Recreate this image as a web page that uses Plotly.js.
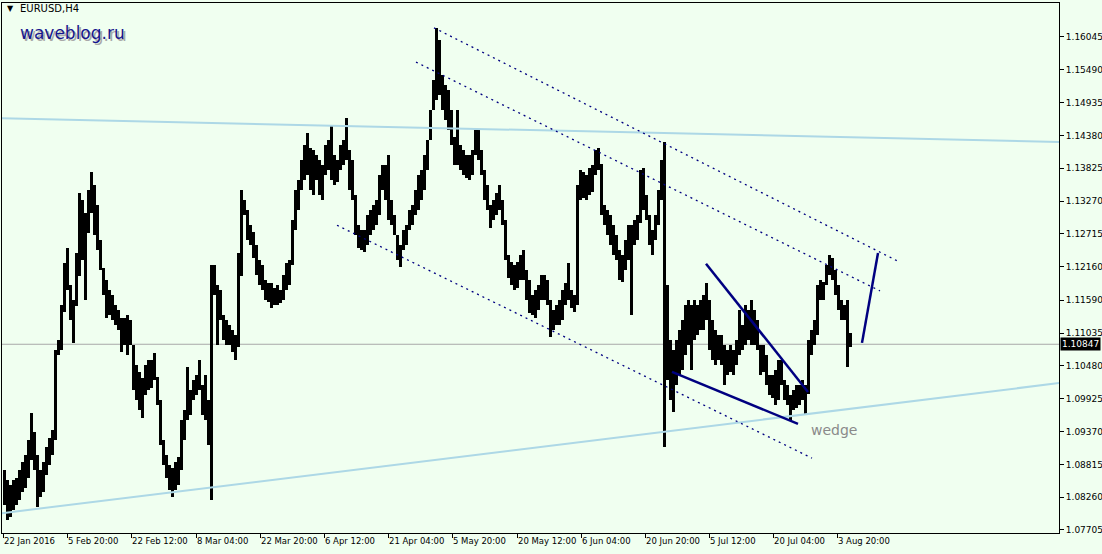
<!DOCTYPE html>
<html>
<head>
<meta charset="utf-8">
<script src="https://cdn.plot.ly/plotly-3.0.1.min.js"></script>
<style>
  html, body { margin: 0; padding: 0; background: #F0FFF0; }
  #chart { width: 1102px; height: 554px; }
</style>
</head>
<body>
<div id="chart"></div>
<script>
// EURUSD H4 price history, 22 Jan - 9 Aug 2016.
// Each entry covers three consecutive H4 bars (high / low of the group).
const barsPerColumn = 3;

const highs = [
  1.0872, 1.0855, 1.0847, 1.0855, 1.0859, 1.0872, 1.0886, 1.0897, 1.0923, 1.0968,
  1.0937, 1.0897, 1.0872, 1.0886, 1.0911, 1.0926, 1.0940, 1.1075, 1.1092, 1.1151,
  1.1222, 1.1248, 1.1185, 1.1160, 1.1239, 1.1341, 1.1329, 1.1307, 1.1346, 1.1376,
  1.1354, 1.1320, 1.1261, 1.1213, 1.1193, 1.1177, 1.1168, 1.1151, 1.1143, 1.1129,
  1.1129, 1.1134, 1.1126, 1.1083, 1.1050, 1.1038, 1.1028, 1.1050, 1.1058, 1.1058,
  1.1070, 1.1030, 1.0990, 1.0923, 1.0897, 1.0880, 1.0875, 1.0886, 1.0894, 1.0957,
  1.0974, 1.1046, 1.1007, 1.1024, 1.1033, 1.1058, 1.1016, 1.1033, 1.0990, 1.1219,
  1.1219, 1.1185, 1.1177, 1.1134, 1.1126, 1.1117, 1.1109, 1.1100, 1.1239, 1.1346,
  1.1329, 1.1312, 1.1286, 1.1275, 1.1253, 1.1227, 1.1219, 1.1193, 1.1188, 1.1188,
  1.1180, 1.1185, 1.1177, 1.1202, 1.1222, 1.1227, 1.1295, 1.1346, 1.1363, 1.1396,
  1.1422, 1.1442, 1.1417, 1.1413, 1.1405, 1.1396, 1.1388, 1.1422, 1.1430, 1.1456,
  1.1405, 1.1396, 1.1422, 1.1430, 1.1467, 1.1413, 1.1396, 1.1337, 1.1287, 1.1278,
  1.1278, 1.1303, 1.1312, 1.1320, 1.1329, 1.1371, 1.1388, 1.1388, 1.1405, 1.1329,
  1.1303, 1.1270, 1.1253, 1.1278, 1.1287, 1.1312, 1.1320, 1.1346, 1.1371, 1.1380,
  1.1405, 1.1430, 1.1481, 1.1532, 1.1620, 1.1599, 1.1540, 1.1523, 1.1515, 1.1481,
  1.1436, 1.1481, 1.1422, 1.1413, 1.1405, 1.1405, 1.1413, 1.1447, 1.1447, 1.1413,
  1.1380, 1.1354, 1.1320, 1.1329, 1.1341, 1.1354, 1.1329, 1.1295, 1.1236, 1.1224,
  1.1219, 1.1224, 1.1236, 1.1244, 1.1210, 1.1193, 1.1168, 1.1177, 1.1185, 1.1202,
  1.1202, 1.1193, 1.1160, 1.1143, 1.1151, 1.1160, 1.1177, 1.1188, 1.1222, 1.1177,
  1.1168, 1.1354, 1.1380, 1.1376, 1.1371, 1.1383, 1.1388, 1.1413, 1.1417, 1.1390,
  1.1320, 1.1312, 1.1303, 1.1287, 1.1270, 1.1244, 1.1236, 1.1261, 1.1287, 1.1287,
  1.1295, 1.1303, 1.1380, 1.1383, 1.1337, 1.1303, 1.1278, 1.1303, 1.1346, 1.1396,
  1.1427, 1.1185, 1.1092, 1.1075, 1.1092, 1.1109, 1.1126, 1.1151, 1.1160, 1.1151,
  1.1160, 1.1151, 1.1160, 1.1168, 1.1188, 1.1160, 1.1126, 1.1109, 1.1100, 1.1100,
  1.1083, 1.1075, 1.1083, 1.1075, 1.1092, 1.1143, 1.1117, 1.1151, 1.1143, 1.1160,
  1.1143, 1.1126, 1.1083, 1.1083, 1.1067, 1.1033, 1.1033, 1.1041, 1.1058, 1.1058,
  1.1024, 1.1016, 1.0999, 1.1007, 1.1016, 1.1016, 1.1024, 1.1016, 1.1092, 1.1109,
  1.1126, 1.1185, 1.1193, 1.1190, 1.1219, 1.1236, 1.1231, 1.1210, 1.1185, 1.1160,
  1.1151, 1.1160, 1.1104
];

const lows = [
  1.0813, 1.0787, 1.0792, 1.0804, 1.0813, 1.0821, 1.0835, 1.0842, 1.0859, 1.0889,
  1.0872, 1.0810, 1.0826, 1.0835, 1.0864, 1.0880, 1.0897, 1.0923, 1.1067, 1.1075,
  1.1140, 1.1177, 1.1126, 1.1087, 1.1150, 1.1200, 1.1227, 1.1160, 1.1273, 1.1307,
  1.1270, 1.1244, 1.1210, 1.1168, 1.1129, 1.1134, 1.1126, 1.1117, 1.1109, 1.1072,
  1.1083, 1.1067, 1.1083, 1.1007, 1.0990, 1.0974, 1.0960, 1.0999, 1.1007, 1.1011,
  1.1024, 1.0982, 1.0914, 1.0880, 1.0859, 1.0838, 1.0826, 1.0838, 1.0847, 1.0872,
  1.0923, 1.0957, 1.0965, 1.0990, 1.0999, 1.1007, 1.0965, 1.0957, 1.0914, 1.0821,
  1.1168, 1.1083, 1.1126, 1.1092, 1.1083, 1.1083, 1.1072, 1.1058, 1.1080, 1.1200,
  1.1303, 1.1261, 1.1253, 1.1231, 1.1202, 1.1185, 1.1177, 1.1160, 1.1156, 1.1146,
  1.1151, 1.1151, 1.1155, 1.1160, 1.1177, 1.1185, 1.1219, 1.1278, 1.1312, 1.1346,
  1.1363, 1.1371, 1.1346, 1.1337, 1.1363, 1.1337, 1.1329, 1.1371, 1.1380, 1.1363,
  1.1354, 1.1359, 1.1380, 1.1388, 1.1396, 1.1346, 1.1329, 1.1270, 1.1248, 1.1244,
  1.1241, 1.1253, 1.1270, 1.1278, 1.1287, 1.1303, 1.1346, 1.1329, 1.1295, 1.1287,
  1.1270, 1.1227, 1.1215, 1.1244, 1.1253, 1.1278, 1.1287, 1.1303, 1.1312, 1.1329,
  1.1346, 1.1380, 1.1430, 1.1481, 1.1498, 1.1506, 1.1481, 1.1464, 1.1447, 1.1422,
  1.1388, 1.1388, 1.1380, 1.1371, 1.1366, 1.1363, 1.1371, 1.1405, 1.1396, 1.1371,
  1.1329, 1.1312, 1.1281, 1.1295, 1.1303, 1.1312, 1.1287, 1.1227, 1.1197, 1.1185,
  1.1177, 1.1180, 1.1193, 1.1193, 1.1160, 1.1138, 1.1134, 1.1129, 1.1143, 1.1160,
  1.1160, 1.1151, 1.1097, 1.1109, 1.1117, 1.1117, 1.1126, 1.1151, 1.1160, 1.1146,
  1.1140, 1.1151, 1.1329, 1.1332, 1.1329, 1.1337, 1.1342, 1.1371, 1.1380, 1.1303,
  1.1287, 1.1270, 1.1253, 1.1236, 1.1227, 1.1193, 1.1190, 1.1210, 1.1227, 1.1134,
  1.1253, 1.1261, 1.1290, 1.1312, 1.1295, 1.1253, 1.1236, 1.1261, 1.1287, 1.1329,
  1.0911, 1.1024, 1.0990, 1.0970, 1.1016, 1.1033, 1.1041, 1.1067, 1.1083, 1.1041,
  1.1092, 1.1100, 1.1109, 1.1109, 1.1126, 1.1075, 1.1058, 1.1050, 1.1058, 1.1050,
  1.1016, 1.1033, 1.1038, 1.1033, 1.1050, 1.1067, 1.1075, 1.1083, 1.1092, 1.1083,
  1.1083, 1.1075, 1.1033, 1.1038, 1.1016, 1.0999, 1.0994, 1.0982, 1.0990, 1.1016,
  1.0990, 1.0982, 1.0957, 1.0974, 1.0977, 1.0982, 1.0990, 1.0965, 1.1000, 1.1067,
  1.1083, 1.1100, 1.1160, 1.1160, 1.1185, 1.1202, 1.1193, 1.1168, 1.1143, 1.1126,
  1.1126, 1.1046, 1.1080
];

const lastClose = 1.10847;

// time scale: bar number counted from the first bar on screen
const dateTickBars = [0, 64, 128, 193, 257, 321, 385, 449, 514, 578, 642, 706, 770, 834];
const dateTickLabels = ["22 Jan 2016", "5 Feb 20:00", "22 Feb 12:00", "8 Mar 04:00", "22 Mar 20:00",
  "6 Apr 12:00", "21 Apr 04:00", "5 May 20:00", "20 May 12:00", "6 Jun 04:00",
  "20 Jun 20:00", "5 Jul 12:00", "20 Jul 04:00", "3 Aug 20:00"];

// price scale labels
const priceTickLabels = ["1.16045", "1.15490", "1.14935", "1.14380", "1.13825", "1.13270",
  "1.12715", "1.12160", "1.11590", "1.11035", "1.10480", "1.09925", "1.09370",
  "1.08815", "1.08260", "1.07705"];

// drawn objects: bar numbers and prices of the two anchor points
const resistanceBars = [-1, 1056], resistancePrices = [1.1467, 1.1427];
const supportBars = [-1, 1056], supportPrices = [1.0799, 1.1019];
const channelTopBars = [431, 894], channelTopPrices = [1.1620, 1.1226];
const channelMidBars = [413, 877], channelMidPrices = [1.1562, 1.1175];
const channelLowBars = [334, 809], channelLowPrices = [1.1286, 1.0892];
const wedgeTopBars = [703, 805], wedgeTopPrices = [1.1221, 1.1004];
const wedgeLowBars = [669, 795], wedgeLowPrices = [1.1038, 1.0950];
const targetBars = [859, 875], targetPrices = [1.1087, 1.1239];

const visibleBars = [-1, 1056];
const visiblePrices = [1.07654, 1.16620];

const colX = highs.map((_, i) => i * barsPerColumn + barsPerColumn / 2);

const NAVY = '#000080';
const LIGHTBLUE = '#ADD8E6';
const FONT = 'DejaVu Sans';

function line(xs, ys, color, width, dash) {
  return { type: 'scatter', mode: 'lines', x: xs, y: ys, hoverinfo: 'skip',
    line: { color: color, width: width, dash: dash || 'solid' }, showlegend: false };
}

const traces = [
  {
    type: 'bar', x: colX, base: lows, y: highs.map((h, i) => h - lows[i]),
    width: barsPerColumn, marker: { color: '#000000', line: { width: 0 } },
    hoverinfo: 'skip', showlegend: false
  },
  line(resistanceBars, resistancePrices, LIGHTBLUE, 2),
  line(supportBars, supportPrices, LIGHTBLUE, 2),
  line(channelTopBars, channelTopPrices, NAVY, 1.3, '2px,4px'),
  line(channelMidBars, channelMidPrices, NAVY, 1.3, '2px,4px'),
  line(channelLowBars, channelLowPrices, NAVY, 1.3, '2px,4px'),
  line(wedgeTopBars, wedgeTopPrices, NAVY, 2.5),
  line(wedgeLowBars, wedgeLowPrices, NAVY, 2.5),
  line(targetBars, targetPrices, NAVY, 2.5)
];

const layout = {
  width: 1102, height: 554,
  margin: { l: 2, r: 43, t: 3, b: 21, autoexpand: false },
  paper_bgcolor: '#F0FFF0', plot_bgcolor: '#F0FFF0',
  showlegend: false, bargap: 0,
  xaxis: {
    range: visibleBars, showgrid: false, zeroline: false,
    showline: true, mirror: true, linecolor: '#000', linewidth: 1,
    ticks: 'outside', ticklen: 4, tickcolor: '#000', tickwidth: 1,
    tickvals: dateTickBars, ticktext: dateTickLabels, tickangle: 0,
    ticklabelposition: 'outside right', ticklabelstandoff: 0,
    tickfont: { family: FONT, size: 8.5, color: '#000' }, fixedrange: true
  },
  yaxis: {
    range: visiblePrices, side: 'right', showgrid: false, zeroline: false,
    showline: true, mirror: true, linecolor: '#000', linewidth: 1,
    ticks: 'outside', ticklen: 4, tickcolor: '#000', tickwidth: 1,
    tickvals: priceTickLabels.map(Number), ticktext: priceTickLabels,
    tickfont: { family: FONT, size: 9, color: '#000' }, fixedrange: true
  },
  shapes: [
    { type: 'line', layer: 'below', xref: 'paper', x0: 0, x1: 1, yref: 'y',
      y0: lastClose, y1: lastClose, line: { color: '#A8A8A8', width: 1 } }
  ],
  annotations: [
    { xref: 'paper', yref: 'paper', x: 0.003, y: 0.989, xanchor: 'left', yanchor: 'middle',
      text: '\u25BC', showarrow: false, font: { family: FONT, size: 8, color: '#000' } },
    { xref: 'paper', yref: 'paper', x: 0.0151, y: 0.989, xanchor: 'left', yanchor: 'middle',
      text: 'EURUSD,H4', showarrow: false, font: { family: FONT, size: 10, color: '#000' } },
    { xref: 'paper', yref: 'paper', x: 0.0151, y: 0.943, xanchor: 'left', yanchor: 'middle',
      xshift: 2, yshift: -2,
      text: 'waveblog.ru', showarrow: false, font: { family: FONT, size: 17, color: '#A9A9A9' } },
    { xref: 'paper', yref: 'paper', x: 0.0151, y: 0.943, xanchor: 'left', yanchor: 'middle',
      text: 'waveblog.ru', showarrow: false, font: { family: FONT, size: 17, color: '#16168E' } },
    { xref: 'x', yref: 'y', x: 806, y: 1.0940, xanchor: 'left', yanchor: 'middle',
      text: 'wedge', showarrow: false, font: { family: FONT, size: 14, color: '#8A8A8A' } },
    { xref: 'paper', yref: 'y', x: 1, y: lastClose, xanchor: 'left', yanchor: 'middle', xshift: 1,
      text: lastClose.toFixed(5), showarrow: false, bgcolor: '#000000', borderpad: 1,
      font: { family: FONT, size: 9, color: '#FFFFFF' } }
  ]
};

Plotly.newPlot('chart', traces, layout, { displayModeBar: false, staticPlot: true });
</script>
</body>
</html>
